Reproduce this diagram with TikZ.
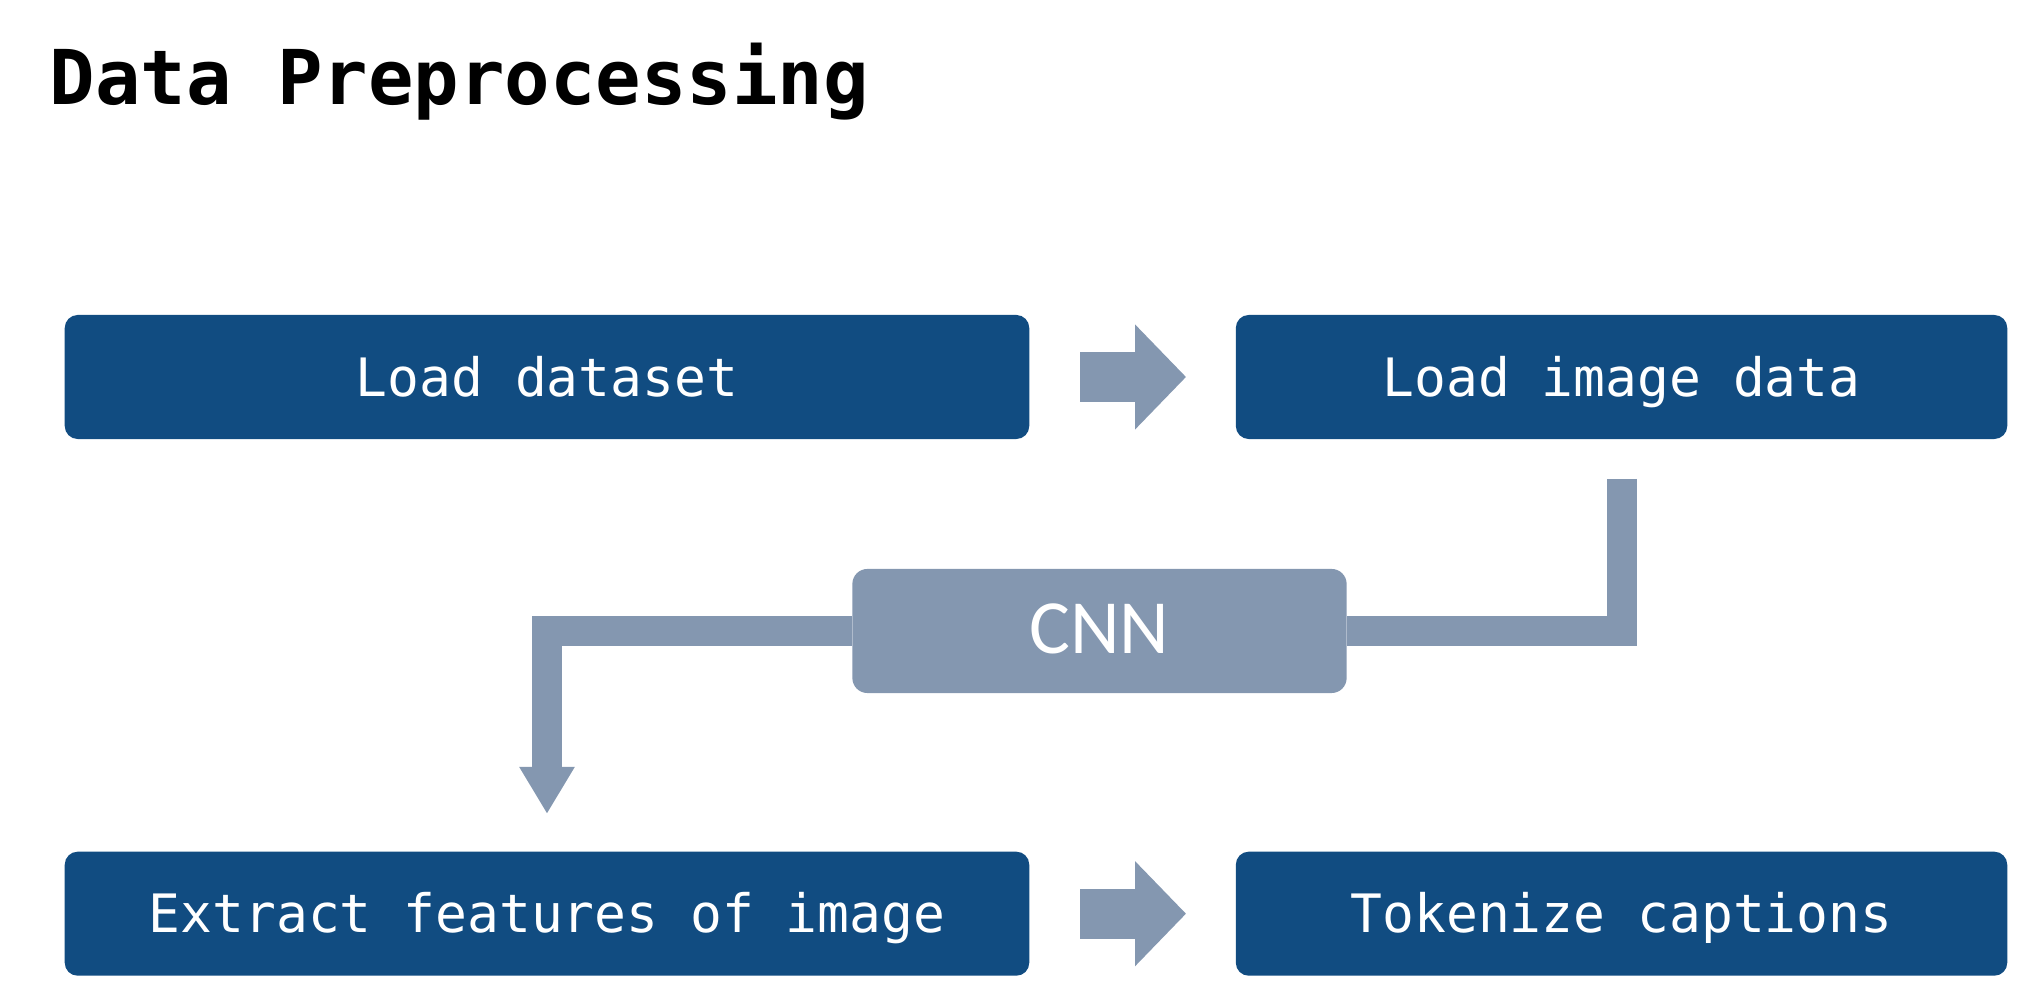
\documentclass[tikz,border=0pt]{standalone}
\usepackage{fontspec}
\setmonofont{DejaVu Sans Mono}
\newfontfamily\cnnfont{Carlito}
\usepackage{xcolor}
\definecolor{boxblue}{HTML}{114C81}
\definecolor{flowgray}{HTML}{8497B0}
\usetikzlibrary{positioning,calc,arrows.meta}

\begin{document}
\begin{tikzpicture}[x=0.01cm,y=-0.01cm,
        stepbox/.style={fill=boxblue,rounded corners=0.13cm,text=white,inner sep=0pt,
            minimum width=9.64cm,minimum height=1.24cm,text height=0.38cm,text depth=0pt,
            font=\ttfamily\fontsize{15.05}{18}\selectfont},
        netbox/.style={fill=flowgray,rounded corners=0.15cm,text=white,inner sep=0pt,
            minimum width=4.94cm,minimum height=1.24cm,text height=0.5cm,text depth=0.06cm,
            font=\cnnfont\fontsize{21.8}{26}\selectfont},
        blockarrow/.style={draw=flowgray,line width=0.5cm,-{Triangle[length=0.51cm,width=1.02cm]}},
        flowbar/.style={draw=flowgray,line width=0.3cm}]
    \useasboundingbox (0,0) rectangle (2035,983);

    \node[anchor=base west,inner sep=0pt,font=\ttfamily\bfseries\fontsize{21.5}{25}\selectfont] (title) at (49,105) {Data Preprocessing};

    \node[stepbox] (load) at (547,377) {Load dataset};
    \node[stepbox,minimum width=7.71cm,right=2.05cm of load] (image) {Load image data};
    \node[stepbox,below=4.11cm of load] (feat) {Extract features of image};
    \node[stepbox,minimum width=7.71cm,below=4.11cm of image] (token) {Tokenize captions};
    \node[netbox] (cnn) at (1099.5,631) {CNN};

    \draw[blockarrow] ([xshift=0.5cm]load.east) -- ([xshift=-0.49cm]image.west);
    \draw[blockarrow] ([xshift=0.5cm]feat.east) -- ([xshift=-0.49cm]token.west);

    \draw[flowbar] ([yshift=-0.39cm]image.south) |- (cnn.east);
    \draw[flowbar,-{Triangle[length=0.47cm,width=0.52cm]}] (cnn.west) -| ([yshift=0.37cm]feat.north);
\end{tikzpicture}
\end{document}
